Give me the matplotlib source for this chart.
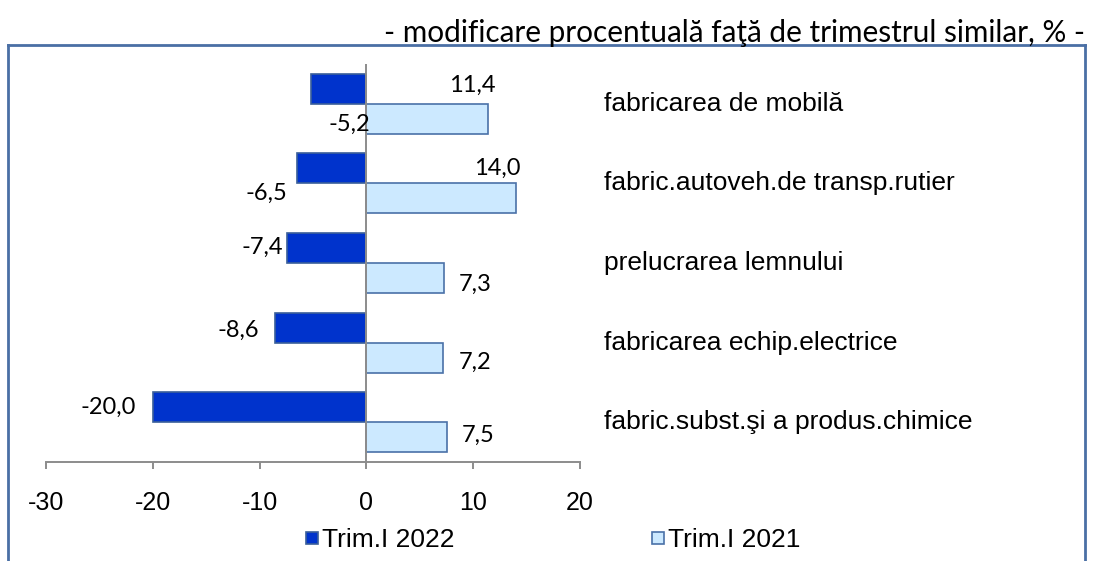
import numpy as np
import matplotlib
matplotlib.use("Agg")
import matplotlib.pyplot as plt
from matplotlib.lines import Line2D

# data (top to bottom)
categories = [
    "fabricarea de mobilă",
    "fabric.autoveh.de transp.rutier",
    "prelucrarea lemnului",
    "fabricarea echip.electrice",
    "fabric.subst.şi a produs.chimice",
]
trim_2022 = [-5.2, -6.5, -7.4, -8.6, -20.0]
trim_2021 = [11.4, 14.0, 7.3, 7.2, 7.5]
series_names = ["Trim.I 2022", "Trim.I 2021"]
title = "- modificare procentuală faţă de trimestrul similar, % -"

# label offsets in pixels from bar end (dx, dy), dy positive = down
off_2022 = [(38, 36), (-31, 25), (-25, -1), (-36, 3), (-45, 0)]
off_2021 = [(-16, -33), (-19, -30), (31, 6), (32, 5), (32, -2)]

DARK = "#0033cc"
DARK_EDGE = "#3a5f9a"
LIGHT = "#cce9ff"
LIGHT_EDGE = "#4a71a8"
FRAME = "#4a6fa5"
GRID = "#8c8c8c"

arial = ["Liberation Sans", "DejaVu Sans"]
calibri = ["Lato", "DejaVu Sans"]
plt.rcParams["axes.unicode_minus"] = False


def fmt(v):
    return f"{v:.1f}".replace(".", ",")


fig = plt.figure(figsize=(10.98, 5.61), dpi=100)
ax = fig.add_axes([46 / 1098, 1 - 462 / 561, 534 / 1098, 398 / 561])

y = np.arange(len(categories))
h = 0.377
ax.barh(y - h / 2, trim_2022, height=h, color=DARK, edgecolor=DARK_EDGE, linewidth=1.2, zorder=2)
ax.barh(y + h / 2, trim_2021, height=h, color=LIGHT, edgecolor=LIGHT_EDGE, linewidth=1.2, zorder=2)

ax.set_xlim(-30, 20)
ax.set_ylim(len(categories) - 0.5, -0.5)
ax.axvline(0, color=GRID, lw=1.4, zorder=3, ymin=-0.012, ymax=1)

for s in ["top", "right", "left"]:
    ax.spines[s].set_visible(False)
ax.spines["bottom"].set_color(GRID)
ax.spines["bottom"].set_linewidth(1.4)
ax.set_yticks([])
ax.set_xticks([-30, -20, -10, 0, 10, 20])
ax.tick_params(axis="x", direction="out", length=5, width=1.4, color=GRID, pad=16)
for lab in ax.get_xticklabels():
    lab.set_family(arial)
    lab.set_fontsize(18)

# value labels
for vals, offs, yy in [(trim_2022, off_2022, y - h / 2), (trim_2021, off_2021, y + h / 2)]:
    for v, (dx, dy), yc in zip(vals, offs, yy):
        ax.annotate(fmt(v), (v, yc), xytext=(dx, -dy), textcoords="offset pixels",
                    ha="center", va="center", fontsize=17, family=calibri, zorder=4)

# category labels on the right
tr = ax.get_yaxis_transform()
for yc, name in zip(y, categories):
    ax.text((604 - 46) / 534, yc, name, transform=tr, ha="left", va="center",
            fontsize=19, family=arial, clip_on=False)

# title
fig.text(1085 / 1098, 1 - 33 / 561, title, ha="right", va="center", fontsize=21.4, family=calibri)

# frame
fx0, fx1, fy = 8 / 1098, 1085 / 1098, 1 - 45 / 561
for xs, ys in [([fx0, fx1], [fy, fy]), ([fx0, fx0], [fy, 0]), ([fx1, fx1], [fy, 0])]:
    fig.add_artist(Line2D(xs, ys, color=FRAME, lw=2.0, transform=fig.transFigure))

# legend
handles = [
    Line2D([], [], marker="s", markersize=8.5, markerfacecolor=DARK, markeredgecolor=DARK_EDGE,
           markeredgewidth=1.2, linestyle="none"),
    Line2D([], [], marker="s", markersize=8.5, markerfacecolor=LIGHT, markeredgecolor=LIGHT_EDGE,
           markeredgewidth=1.2, linestyle="none"),
]
fig.legend(handles, series_names, loc="center", bbox_to_anchor=(553 / 1098, 1 - 540 / 561),
           ncol=2, frameon=False, handlelength=0.45, handletextpad=0.15,
           columnspacing=7.5, borderpad=0, borderaxespad=0, prop={"family": arial, "size": 19})

fig.savefig("out.png", dpi=100)
